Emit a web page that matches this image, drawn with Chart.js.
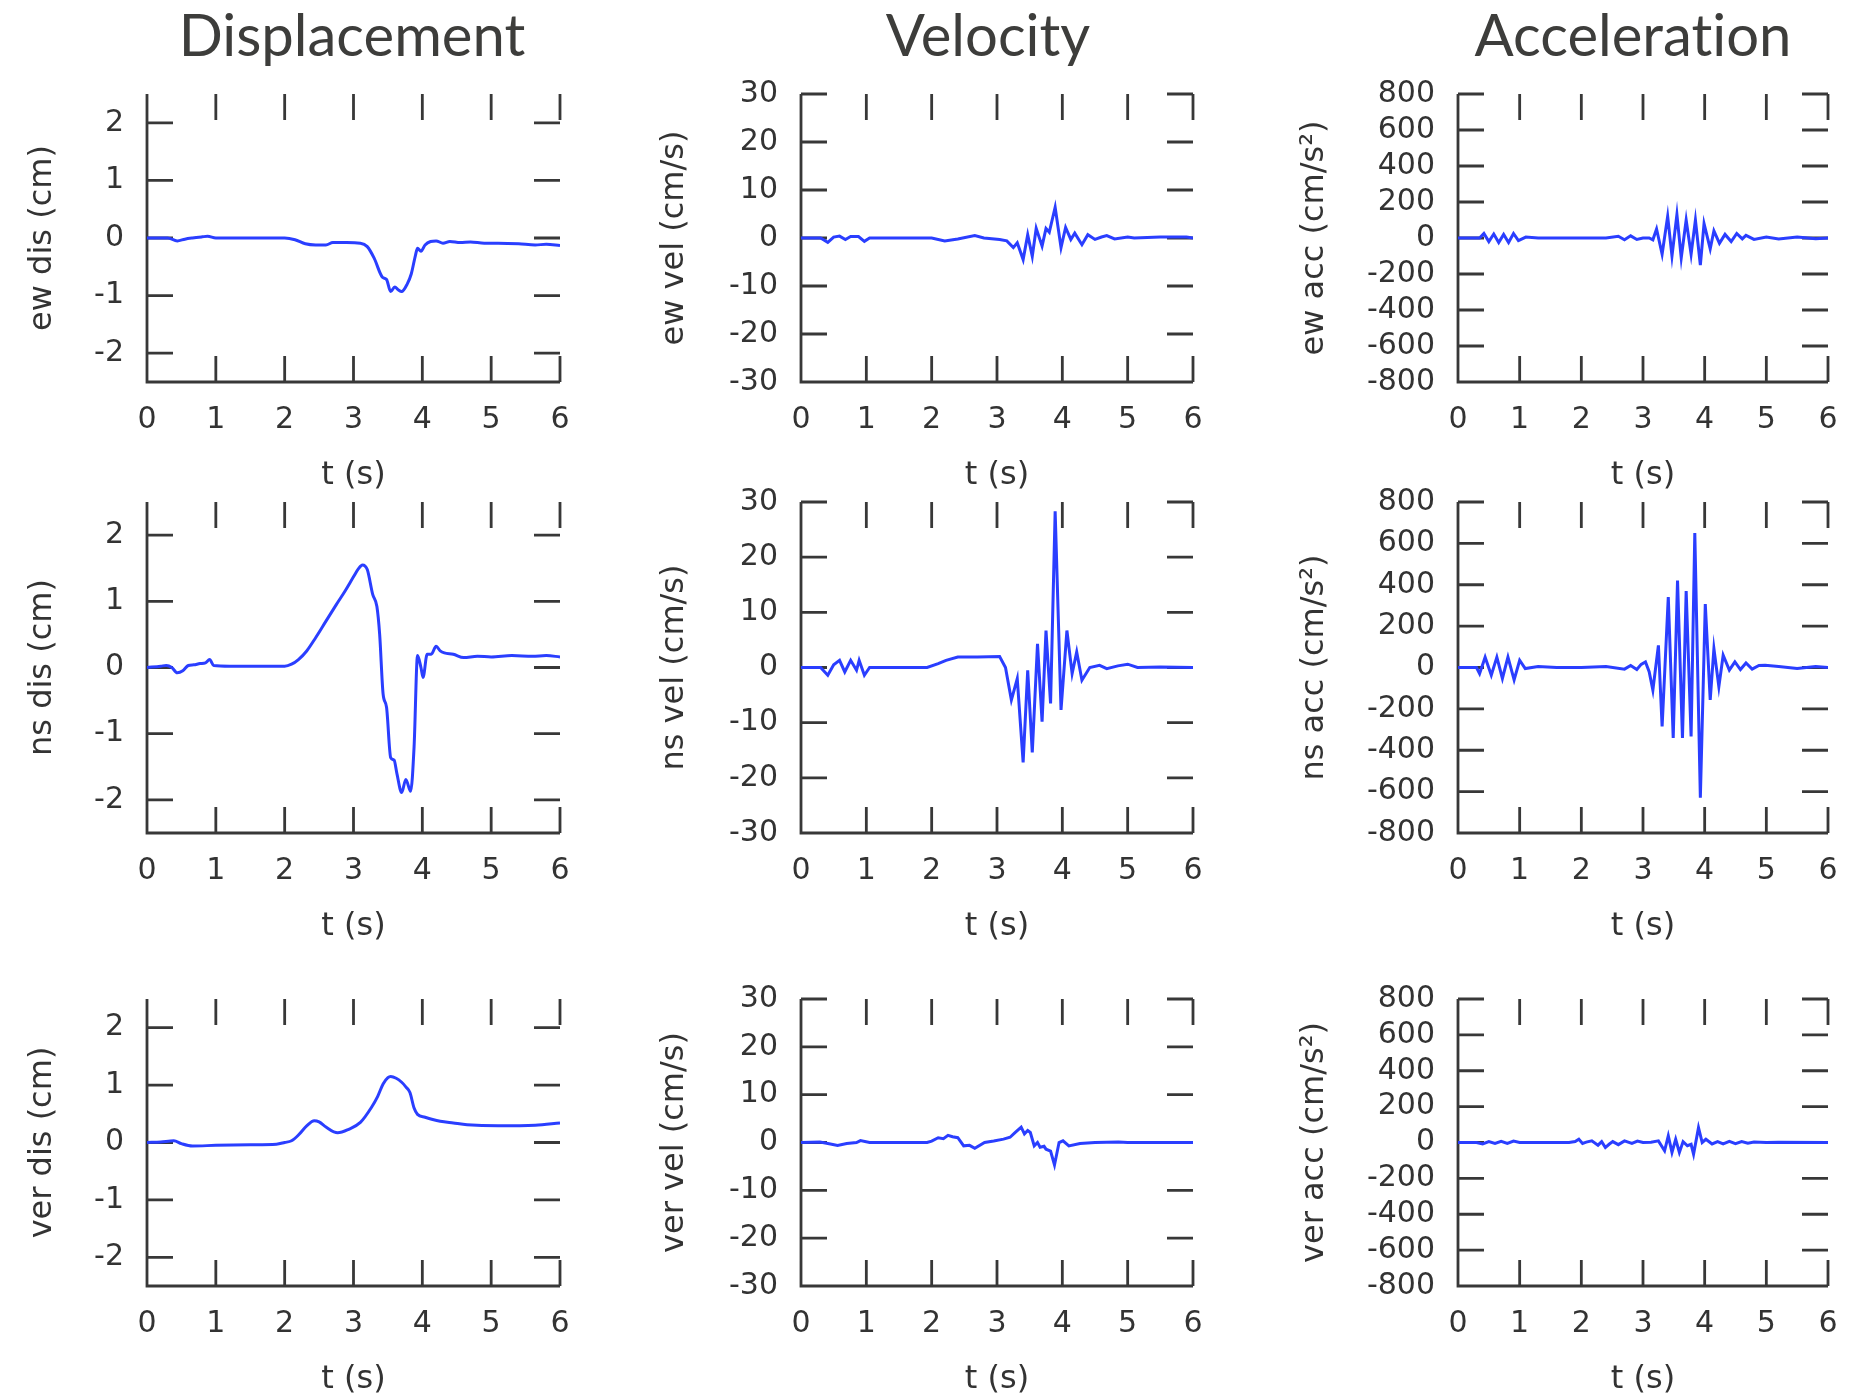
<!DOCTYPE html>
<html>
<head>
<meta charset="utf-8">
<script src="https://cdn.jsdelivr.net/npm/chart.js@4.4.1/dist/chart.umd.min.js"></script>
<style>
  body { margin: 0; background: #fff; width: 1867px; height: 1400px; position: relative; overflow: hidden; }
  canvas { position: absolute; }
  .colTitle { position: absolute; top: 5px; width: 600px; margin-left: -300px; text-align: center;
    font-family: Lato, "Open Sans", sans-serif; font-size: 58px; line-height: 58px; color: #3d3d3b;
    font-variant-ligatures: none; }
</style>
</head>
<body>
<div class="colTitle" style="left:352px">Displacement</div>
<div class="colTitle" style="left:988px">Velocity</div>
<div class="colTitle" style="left:1633px">Acceleration</div>
<script>
// tick values
const tTicks = [0, 1, 2, 3, 4, 5, 6]
const disTicks = [-2, -1, 0, 1, 2]
const velTicks = [-30, -20, -10, 0, 10, 20, 30]
const accTicks = [-800, -600, -400, -200, 0, 200, 400, 600, 800]

// east-west
const ewDisT = [0, 0.3, 0.44, 0.55, 0.66, 0.8, 0.88, 1.0, 1.5, 2.0, 2.15, 2.3, 2.45, 2.6, 2.7, 2.9, 3.1, 3.2, 3.3, 3.42, 3.48, 3.54, 3.6, 3.65, 3.7, 3.78, 3.84, 3.9, 3.93, 3.98, 4.04, 4.12, 4.2, 4.3, 4.4, 4.55, 4.7, 4.9, 5.1, 5.4, 5.64, 5.8, 6.0]
const ewDisV = [0, 0, -0.05, -0.02, 0, 0.02, 0.03, 0, 0, 0, -0.03, -0.1, -0.12, -0.12, -0.08, -0.08, -0.09, -0.15, -0.35, -0.68, -0.72, -0.93, -0.85, -0.9, -0.93, -0.8, -0.62, -0.3, -0.18, -0.23, -0.12, -0.06, -0.05, -0.09, -0.06, -0.08, -0.07, -0.09, -0.09, -0.1, -0.12, -0.11, -0.13]

const ewVelT = [0, 0.3, 0.41, 0.5, 0.59, 0.68, 0.76, 0.88, 0.97, 1.05, 1.5, 2.0, 2.2, 2.4, 2.66, 2.8, 3.04, 3.15, 3.25, 3.31, 3.4, 3.47, 3.54, 3.6, 3.69, 3.75, 3.8, 3.89, 3.98, 4.05, 4.13, 4.19, 4.3, 4.39, 4.5, 4.6, 4.68, 4.8, 5.0, 5.1, 5.5, 5.9, 6.0]
const ewVelV = [0, 0, -0.9, 0.2, 0.4, -0.3, 0.3, 0.3, -0.7, 0, 0, 0, -0.6, -0.2, 0.5, 0, -0.3, -0.6, -2.0, -1.0, -4.5, 0.7, -3.8, 2.0, -1.7, 2.0, 1.2, 6.4, -2.0, 2.2, -0.3, 1.0, -1.4, 0.7, -0.3, 0.2, 0.5, -0.2, 0.2, 0, 0.2, 0.2, 0]

const ewAccT = [0, 0.35, 0.42, 0.5, 0.58, 0.66, 0.74, 0.82, 0.9, 0.98, 1.1, 1.3, 1.6, 2.0, 2.4, 2.6, 2.7, 2.8, 2.9, 3.0, 3.1, 3.16, 3.22, 3.31, 3.4, 3.47, 3.55, 3.62, 3.7, 3.78, 3.85, 3.93, 3.99, 4.09, 4.15, 4.24, 4.33, 4.43, 4.52, 4.61, 4.67, 4.8, 5.0, 5.2, 5.5, 5.8, 6.0]
const ewAccV = [0, 0, 25, -20, 22, -25, 20, -25, 25, -15, 5, 0, 0, 0, 0, 10, -10, 12, -8, 0, 0, -10, 50, -90, 120, -100, 130, -110, 100, -90, 100, -150, 80, -60, 40, -30, 20, -20, 25, -5, 15, -8, 5, -5, 6, -4, 0]

// north-south
const nsDisT = [0, 0.2, 0.28, 0.36, 0.44, 0.52, 0.6, 0.68, 0.77, 0.85, 0.91, 0.97, 1.2, 1.6, 2.0, 2.1, 2.2, 2.32, 2.45, 2.6, 2.75, 2.88, 3.0, 3.07, 3.13, 3.2, 3.28, 3.34, 3.38, 3.43, 3.48, 3.54, 3.59, 3.63, 3.7, 3.76, 3.83, 3.88, 3.93, 3.98, 4.01, 4.07, 4.13, 4.2, 4.26, 4.32, 4.45, 4.6, 4.8, 5.0, 5.3, 5.6, 5.8, 6.0]
const nsDisV = [0, 0.02, 0.03, 0.0, -0.08, -0.05, 0.03, 0.04, 0.06, 0.07, 0.12, 0.03, 0.02, 0.02, 0.02, 0.05, 0.12, 0.25, 0.45, 0.7, 0.95, 1.16, 1.37, 1.49, 1.55, 1.48, 1.1, 0.92, 0.5, -0.4, -0.6, -1.36, -1.4, -1.6, -1.89, -1.69, -1.87, -1.2, 0.18, 0.0, -0.15, 0.2, 0.2, 0.32, 0.25, 0.22, 0.2, 0.15, 0.17, 0.16, 0.18, 0.17, 0.18, 0.16]

const nsVelT = [0, 0.3, 0.41, 0.5, 0.59, 0.67, 0.76, 0.85, 0.89, 0.97, 1.05, 1.5, 1.93, 2.1, 2.22, 2.4, 2.7, 3.04, 3.13, 3.22, 3.31, 3.4, 3.47, 3.54, 3.62, 3.69, 3.75, 3.82, 3.89, 3.98, 4.07, 4.15, 4.22, 4.3, 4.42, 4.57, 4.68, 4.85, 5.0, 5.15, 5.5, 6.0]
const nsVelV = [0, 0, -1.4, 0.5, 1.3, -0.8, 1.3, -0.5, 1.3, -1.4, 0, 0, 0, 0.7, 1.3, 1.9, 1.9, 2.0, 0, -5.9, -2, -17.2, -0.5, -15.4, 4.3, -9.8, 6.7, -6.5, 28.3, -7.7, 6.7, -1.1, 2.8, -2.3, 0, 0.4, -0.2, 0.3, 0.6, 0, 0.1, 0]

const nsAccT = [0, 0.3, 0.35, 0.44, 0.54, 0.63, 0.72, 0.81, 0.91, 1.0, 1.09, 1.3, 1.6, 2.0, 2.4, 2.7, 2.8, 2.9, 2.97, 3.04, 3.1, 3.16, 3.25, 3.31, 3.41, 3.49, 3.56, 3.64, 3.70, 3.78, 3.84, 3.93, 4.01, 4.09, 4.15, 4.23, 4.30, 4.40, 4.49, 4.58, 4.67, 4.77, 4.88, 4.98, 5.2, 5.5, 5.8, 6.0]
const nsAccV = [0, 0, -30, 50, -37, 50, -53, 50, -60, 35, -5, 5, 0, 0, 5, -8, 10, -10, 15, 27, -20, -109, 107, -285, 340, -340, 420, -340, 370, -333, 650, -630, 307, -157, 91, -93, 59, -13, 27, -10, 22, -8, 10, 11, 5, -5, 5, 0]

// vertical
const verDisT = [0, 0.2, 0.39, 0.5, 0.66, 1.0, 1.5, 1.88, 2.0, 2.1, 2.2, 2.32, 2.43, 2.5, 2.6, 2.77, 2.93, 3.1, 3.26, 3.35, 3.43, 3.5, 3.54, 3.62, 3.7, 3.76, 3.82, 3.88, 3.93, 4.04, 4.15, 4.26, 4.45, 4.65, 5.1, 5.64, 6.0]
const verDisV = [0, 0.01, 0.03, -0.02, -0.06, -0.05, -0.04, -0.03, 0.0, 0.03, 0.13, 0.29, 0.38, 0.36, 0.27, 0.17, 0.23, 0.35, 0.61, 0.8, 1.02, 1.13, 1.15, 1.12, 1.05, 0.97, 0.87, 0.6, 0.49, 0.44, 0.4, 0.37, 0.34, 0.31, 0.29, 0.3, 0.34]

const verVelT = [0, 0.29, 0.45, 0.56, 0.7, 0.85, 0.91, 1.05, 1.5, 1.93, 2.0, 2.1, 2.18, 2.25, 2.32, 2.4, 2.49, 2.58, 2.66, 2.81, 2.95, 3.1, 3.2, 3.28, 3.37, 3.42, 3.47, 3.51, 3.57, 3.62, 3.66, 3.72, 3.75, 3.82, 3.88, 3.95, 4.01, 4.1, 4.27, 4.5, 4.86, 5.0, 6.0]
const verVelV = [0, 0.1, -0.3, -0.6, -0.2, 0, 0.4, 0, 0, 0, 0.3, 1.0, 0.8, 1.5, 1.2, 1.0, -0.7, -0.6, -1.2, 0, 0.3, 0.7, 1.1, 2.1, 3.2, 1.8, 2.5, 2.1, -0.7, 0, -1.0, -0.8, -1.4, -1.8, -4.7, 0, 0.35, -0.7, -0.2, 0, 0.1, 0, 0]

const verAccT = [0, 0.3, 0.4, 0.5, 0.6, 0.7, 0.8, 0.9, 1.0, 1.5, 1.8, 1.9, 1.96, 2.02, 2.08, 2.17, 2.27, 2.33, 2.39, 2.45, 2.51, 2.6, 2.7, 2.82, 2.91, 3.0, 3.13, 3.25, 3.35, 3.41, 3.47, 3.53, 3.59, 3.65, 3.72, 3.78, 3.82, 3.9, 3.96, 4.02, 4.12, 4.21, 4.3, 4.4, 4.5, 4.6, 4.7, 4.8, 5.0, 5.2, 6.0]
const verAccV = [0, 0, -8, 5, -5, 6, -5, 8, 0, 0, 0, 5, 18, -5, 2, 9, -15, 5, -28, -10, 5, -12, 9, -5, 8, 0, 2, 9, -46, 37, -55, 18, -55, 5, -18, -10, -65, 83, 0, 18, -8, 5, -8, 6, -6, 5, -4, 3, 0, 2, 0]

const lineColour = 'rgb(42,62,255)'
const axisColour = '#383838'
const textColour = '#333333'

// plot box positions on the page
const plotLeft = [147, 801, 1458]
const plotRight = [560, 1193, 1828]
const yAxisWidth = [126, 148, 165]
const plotTop = [94, 502, 999]
const plotBottom = [382, 833, 1286]
// top padding must cover half a tick label plus the tick padding, or Chart.js shrinks the plot
const padTop = 50, padRight = 36, xAxisHeight = 113

// ticks drawn inward on all four sides, axis lines on left and bottom only
const boxTicks = {
    id: 'boxTicks',
    beforeDatasetsDraw(chart) {
        const {ctx, chartArea: a, scales: {x, y}} = chart
        const len = 26
        ctx.save()
        ctx.strokeStyle = axisColour
        ctx.lineWidth = 2.8
        ctx.beginPath()
        ctx.moveTo(a.left, a.top)
        ctx.lineTo(a.left, a.bottom)
        ctx.lineTo(a.right, a.bottom)
        y.ticks.forEach(tk => {
            const py = y.getPixelForValue(tk.value)
            ctx.moveTo(a.left, py); ctx.lineTo(a.left + len, py)
            ctx.moveTo(a.right, py); ctx.lineTo(a.right - len, py)
        })
        x.ticks.forEach(tk => {
            const px = x.getPixelForValue(tk.value)
            ctx.moveTo(px, a.bottom); ctx.lineTo(px, a.bottom - len)
            ctx.moveTo(px, a.top); ctx.lineTo(px, a.top + len)
        })
        ctx.stroke()
        ctx.restore()
    }
}

const panels = [
    {row: 0, col: 0, t: ewDisT, v: ewDisV, label: 'ew dis (cm)', ticks: disTicks, lim: 2.5},
    {row: 0, col: 1, t: ewVelT, v: ewVelV, label: 'ew vel (cm/s)', ticks: velTicks, lim: 30},
    {row: 0, col: 2, t: ewAccT, v: ewAccV, label: 'ew acc (cm/s²)', ticks: accTicks, lim: 800},
    {row: 1, col: 0, t: nsDisT, v: nsDisV, label: 'ns dis (cm)', ticks: disTicks, lim: 2.5},
    {row: 1, col: 1, t: nsVelT, v: nsVelV, label: 'ns vel (cm/s)', ticks: velTicks, lim: 30},
    {row: 1, col: 2, t: nsAccT, v: nsAccV, label: 'ns acc (cm/s²)', ticks: accTicks, lim: 800},
    {row: 2, col: 0, t: verDisT, v: verDisV, label: 'ver dis (cm)', ticks: disTicks, lim: 2.5},
    {row: 2, col: 1, t: verVelT, v: verVelV, label: 'ver vel (cm/s)', ticks: velTicks, lim: 30},
    {row: 2, col: 2, t: verAccT, v: verAccV, label: 'ver acc (cm/s²)', ticks: accTicks, lim: 800},
]

const tickFont = {family: '"DejaVu Sans", sans-serif', size: 30}
const titleFont = {family: '"DejaVu Sans", sans-serif', size: 32}

panels.forEach(p => {
    const canvas = document.createElement('canvas')
    const w = yAxisWidth[p.col] + plotRight[p.col] - plotLeft[p.col] + padRight
    const h = padTop + plotBottom[p.row] - plotTop[p.row] + xAxisHeight
    canvas.width = w
    canvas.height = h
    canvas.style.left = (plotLeft[p.col] - yAxisWidth[p.col]) + 'px'
    canvas.style.top = (plotTop[p.row] - padTop) + 'px'
    document.body.appendChild(canvas)

    new Chart(canvas, {
        type: 'scatter',
        data: {
            datasets: [{
                data: p.t.map((t, i) => ({x: t, y: p.v[i]})),
                showLine: true,
                borderColor: lineColour,
                borderWidth: 3,
                pointRadius: 0,
                // displacement traces are smooth, the others stay as drawn
                cubicInterpolationMode: p.col === 0 ? 'monotone' : 'default',
                tension: 0
            }]
        },
        options: {
            responsive: false,
            animation: false,
            devicePixelRatio: 1,
            layout: {padding: {top: padTop, right: padRight, left: 0, bottom: 0}},
            plugins: {legend: {display: false}, tooltip: {enabled: false}},
            scales: {
                x: {
                    type: 'linear', min: 0, max: 6,
                    grid: {display: false, drawTicks: false},
                    border: {display: false},
                    afterBuildTicks: s => { s.ticks = tTicks.map(v => ({value: v})) },
                    afterFit: s => { s.height = xAxisHeight },
                    ticks: {font: tickFont, color: textColour, padding: 20, maxRotation: 0, autoSkip: false},
                    title: {display: true, text: 't (s)', font: titleFont, color: textColour, padding: {top: 0, bottom: 0}}
                },
                y: {
                    type: 'linear', min: -p.lim, max: p.lim,
                    grid: {display: false, drawTicks: false},
                    border: {display: false},
                    afterBuildTicks: s => { s.ticks = p.ticks.map(v => ({value: v})) },
                    afterFit: s => { s.width = yAxisWidth[p.col] },
                    ticks: {font: tickFont, color: textColour, padding: 23, autoSkip: false},
                    title: {display: true, text: p.label, font: titleFont, color: textColour, padding: {top: 2, bottom: 0}}
                }
            }
        },
        plugins: [boxTicks]
    })
})
</script>
</body>
</html>
